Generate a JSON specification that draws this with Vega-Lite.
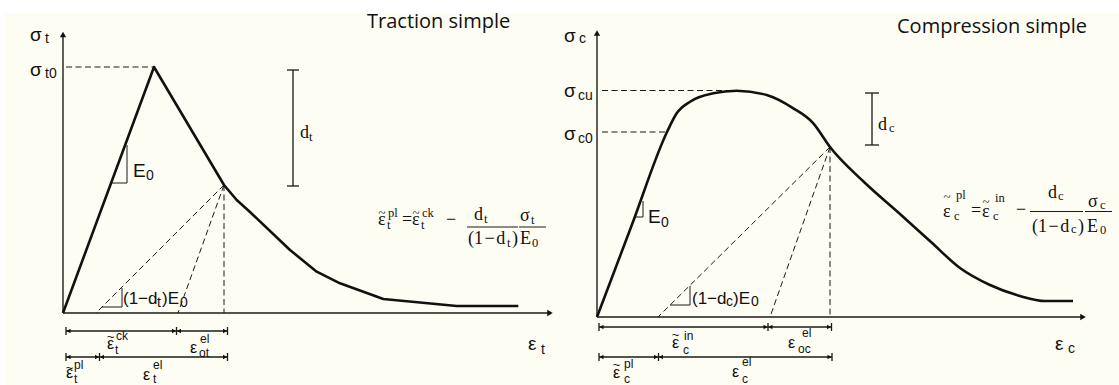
{
  "$schema": "https://vega.github.io/schema/vega-lite/v6.json",
  "width": 1114,
  "height": 372,
  "autosize": {"type": "none"},
  "padding": {"left": 5, "top": 13, "right": 0, "bottom": 0},
  "background": "#ffffff",
  "config": {"view": {"stroke": null, "fill": "#fdfdf3"}},
  "datasets": {
    "curves": [
      {"curve": "traction", "x": 63, "y": 72},
      {"curve": "traction", "x": 154, "y": 318},
      {"curve": "traction", "x": 224, "y": 200},
      {"curve": "traction", "x": 236.7, "y": 185},
      {"curve": "traction", "x": 250, "y": 173},
      {"curve": "traction", "x": 290, "y": 135},
      {"curve": "traction", "x": 316.7, "y": 113.3},
      {"curve": "traction", "x": 340, "y": 101.7},
      {"curve": "traction", "x": 383.3, "y": 86},
      {"curve": "traction", "x": 456.7, "y": 79},
      {"curve": "traction", "x": 518.3, "y": 79},
      {"curve": "compression", "x": 597, "y": 68},
      {"curve": "compression", "x": 632, "y": 160.5},
      {"curve": "compression", "x": 667, "y": 253},
      {"curve": "compression", "x": 676.7, "y": 271.7},
      {"curve": "compression", "x": 690, "y": 283.3},
      {"curve": "compression", "x": 713.3, "y": 291.7},
      {"curve": "compression", "x": 736.7, "y": 294.3},
      {"curve": "compression", "x": 766.7, "y": 290},
      {"curve": "compression", "x": 793.3, "y": 276.7},
      {"curve": "compression", "x": 813.3, "y": 261.7},
      {"curve": "compression", "x": 830, "y": 238},
      {"curve": "compression", "x": 864, "y": 203},
      {"curve": "compression", "x": 900, "y": 171},
      {"curve": "compression", "x": 931, "y": 143},
      {"curve": "compression", "x": 960, "y": 117},
      {"curve": "compression", "x": 990, "y": 100},
      {"curve": "compression", "x": 1020, "y": 89},
      {"curve": "compression", "x": 1045, "y": 84},
      {"curve": "compression", "x": 1073, "y": 84}
    ],
    "segments": [
      {"kind": "axis", "x": 63, "y": 72, "x2": 63, "y2": 350},
      {"kind": "axis", "x": 63, "y": 72, "x2": 549, "y2": 72},
      {"kind": "axis", "x": 597, "y": 68, "x2": 597, "y2": 351},
      {"kind": "axis", "x": 597, "y": 68, "x2": 1082, "y2": 68},

      {"kind": "guide", "x": 66, "y": 318, "x2": 154, "y2": 318},
      {"kind": "guide", "x": 224, "y": 200, "x2": 96, "y2": 72},
      {"kind": "guide", "x": 224, "y": 200, "x2": 178, "y2": 72},
      {"kind": "guide", "x": 224, "y": 200, "x2": 224, "y2": 72},
      {"kind": "guide", "x": 602, "y": 294.5, "x2": 737, "y2": 294.5},
      {"kind": "guide", "x": 602, "y": 253, "x2": 667, "y2": 253},
      {"kind": "guide", "x": 830, "y": 238, "x2": 658, "y2": 68},
      {"kind": "guide", "x": 830, "y": 238, "x2": 770, "y2": 68},
      {"kind": "guide", "x": 830, "y": 238, "x2": 830, "y2": 68},

      {"kind": "slope", "x": 111, "y": 202, "x2": 127, "y2": 202},
      {"kind": "slope", "x": 127, "y": 202, "x2": 127, "y2": 240},
      {"kind": "slope", "x": 102, "y": 78, "x2": 122, "y2": 78},
      {"kind": "slope", "x": 122, "y": 78, "x2": 122, "y2": 97},
      {"kind": "slope", "x": 635, "y": 168, "x2": 643, "y2": 168},
      {"kind": "slope", "x": 643, "y": 168, "x2": 643, "y2": 184},
      {"kind": "slope", "x": 670, "y": 80, "x2": 690, "y2": 80},
      {"kind": "slope", "x": 690, "y": 80, "x2": 690, "y2": 99},

      {"kind": "bar", "x": 293, "y": 315, "x2": 293, "y2": 199},
      {"kind": "bar", "x": 287, "y": 315, "x2": 299, "y2": 315},
      {"kind": "bar", "x": 287, "y": 199, "x2": 299, "y2": 199},
      {"kind": "bar", "x": 872, "y": 292, "x2": 872, "y2": 240},
      {"kind": "bar", "x": 865, "y": 292, "x2": 879, "y2": 292},
      {"kind": "bar", "x": 865, "y": 240, "x2": 879, "y2": 240},

      {"kind": "dim", "x": 66, "y": 54, "x2": 227.5, "y2": 54},
      {"kind": "dim", "x": 66, "y": 28, "x2": 227.5, "y2": 28},
      {"kind": "dim", "x": 599, "y": 58, "x2": 831.5, "y2": 58},
      {"kind": "dim", "x": 599, "y": 28, "x2": 832, "y2": 28},
      {"kind": "dim", "x": 66, "y": 50, "x2": 66, "y2": 58},
      {"kind": "dim", "x": 176.5, "y": 50, "x2": 176.5, "y2": 58},
      {"kind": "dim", "x": 227.5, "y": 50, "x2": 227.5, "y2": 58},
      {"kind": "dim", "x": 66, "y": 24, "x2": 66, "y2": 32},
      {"kind": "dim", "x": 99.5, "y": 24, "x2": 99.5, "y2": 32},
      {"kind": "dim", "x": 227.5, "y": 24, "x2": 227.5, "y2": 32},
      {"kind": "dim", "x": 599, "y": 54, "x2": 599, "y2": 62},
      {"kind": "dim", "x": 768, "y": 54, "x2": 768, "y2": 62},
      {"kind": "dim", "x": 831.5, "y": 54, "x2": 831.5, "y2": 62},
      {"kind": "dim", "x": 599, "y": 24, "x2": 599, "y2": 32},
      {"kind": "dim", "x": 658.5, "y": 24, "x2": 658.5, "y2": 32},
      {"kind": "dim", "x": 832, "y": 24, "x2": 832, "y2": 32},

      {"kind": "fbar", "x": 467, "y": 158, "x2": 518, "y2": 158},
      {"kind": "fbar", "x": 519, "y": 158, "x2": 546, "y2": 158},
      {"kind": "fbar", "x": 1030, "y": 173.5, "x2": 1083, "y2": 173.5},
      {"kind": "fbar", "x": 1085, "y": 173.5, "x2": 1112, "y2": 173.5}
    ],
    "heads": [
      {"kind": "axis", "dir": "up", "x": 63, "y": 350.5},
      {"kind": "axis", "dir": "right", "x": 550, "y": 72},
      {"kind": "axis", "dir": "up", "x": 597, "y": 352},
      {"kind": "axis", "dir": "right", "x": 1083, "y": 68},
      {"kind": "dim", "dir": "left", "x": 68.5, "y": 54},
      {"kind": "dim", "dir": "right", "x": 174, "y": 54},
      {"kind": "dim", "dir": "left", "x": 179, "y": 54},
      {"kind": "dim", "dir": "right", "x": 225, "y": 54},
      {"kind": "dim", "dir": "left", "x": 68.5, "y": 28},
      {"kind": "dim", "dir": "right", "x": 97, "y": 28},
      {"kind": "dim", "dir": "left", "x": 102, "y": 28},
      {"kind": "dim", "dir": "right", "x": 225, "y": 28},
      {"kind": "dim", "dir": "left", "x": 601.5, "y": 58},
      {"kind": "dim", "dir": "right", "x": 765.5, "y": 58},
      {"kind": "dim", "dir": "left", "x": 770.5, "y": 58},
      {"kind": "dim", "dir": "right", "x": 829, "y": 58},
      {"kind": "dim", "dir": "left", "x": 601.5, "y": 28},
      {"kind": "dim", "dir": "right", "x": 656, "y": 28},
      {"kind": "dim", "dir": "left", "x": 661, "y": 28},
      {"kind": "dim", "dir": "right", "x": 829.5, "y": 28}
    ],
    "labels": [
      {"kind": "title", "text": "Traction simple", "x": 367, "y": 357},
      {"kind": "title", "text": "Compression simple", "x": 897, "y": 352},

      {"kind": "sym", "text": "σ", "x": 30, "y": 344},
      {"kind": "sym", "text": "σ", "x": 30, "y": 309},
      {"kind": "sym", "text": "E", "x": 133, "y": 208},
      {"kind": "sym", "text": "ε", "x": 528, "y": 35},
      {"kind": "sym", "text": "σ", "x": 564, "y": 343},
      {"kind": "sym", "text": "σ", "x": 564, "y": 288},
      {"kind": "sym", "text": "σ", "x": 564, "y": 245},
      {"kind": "sym", "text": "E", "x": 648, "y": 162},
      {"kind": "sym", "text": "ε", "x": 1055, "y": 35},

      {"kind": "ratio", "text": "(1−d", "x": 123, "y": 81},
      {"kind": "ratio", "text": ")E", "x": 162, "y": 81},
      {"kind": "ratio", "text": "(1−d", "x": 692, "y": 81},
      {"kind": "ratio", "text": ")E", "x": 733, "y": 81},

      {"kind": "sub", "text": "t", "x": 45, "y": 342},
      {"kind": "sub", "text": "t0", "x": 45, "y": 307},
      {"kind": "sub", "text": "0", "x": 146, "y": 205},
      {"kind": "sub", "text": "t", "x": 157, "y": 78},
      {"kind": "sub", "text": "0", "x": 180, "y": 78},
      {"kind": "sub", "text": "t", "x": 541, "y": 31},
      {"kind": "sub", "text": "c", "x": 579, "y": 342},
      {"kind": "sub", "text": "cu", "x": 578, "y": 285},
      {"kind": "sub", "text": "c0", "x": 578, "y": 242},
      {"kind": "sub", "text": "0", "x": 661, "y": 158},
      {"kind": "sub", "text": "c", "x": 726, "y": 79},
      {"kind": "sub", "text": "0", "x": 751, "y": 79},
      {"kind": "sub", "text": "c", "x": 1068, "y": 32},

      {"kind": "dim", "text": "ε", "x": 107, "y": 36},
      {"kind": "dim", "text": "ε", "x": 190, "y": 32},
      {"kind": "dim", "text": "ε", "x": 66, "y": 7},
      {"kind": "dim", "text": "ε", "x": 143, "y": 5},
      {"kind": "dim", "text": "ε", "x": 672, "y": 37},
      {"kind": "dim", "text": "ε", "x": 788, "y": 37},
      {"kind": "dim", "text": "ε", "x": 613, "y": 7},
      {"kind": "dim", "text": "ε", "x": 732, "y": 8},

      {"kind": "tilde", "text": "~", "x": 110.5, "y": 44},
      {"kind": "tilde", "text": "~", "x": 69.5, "y": 13},
      {"kind": "tilde", "text": "~", "x": 675.5, "y": 46},
      {"kind": "tilde", "text": "~", "x": 616.5, "y": 16},

      {"kind": "dimsub", "text": "t", "x": 115, "y": 31},
      {"kind": "dimsub", "text": "ck", "x": 116, "y": 45},
      {"kind": "dimsub", "text": "ot", "x": 199, "y": 28},
      {"kind": "dimsub", "text": "el", "x": 200, "y": 42},
      {"kind": "dimsub", "text": "pl", "x": 74, "y": 16},
      {"kind": "dimsub", "text": "t", "x": 74, "y": 2},
      {"kind": "dimsub", "text": "t", "x": 153, "y": 2},
      {"kind": "dimsub", "text": "el", "x": 153, "y": 16},
      {"kind": "dimsub", "text": "c", "x": 683, "y": 31},
      {"kind": "dimsub", "text": "in", "x": 684, "y": 45},
      {"kind": "dimsub", "text": "oc", "x": 798, "y": 32},
      {"kind": "dimsub", "text": "el", "x": 802, "y": 48},
      {"kind": "dimsub", "text": "pl", "x": 624, "y": 17},
      {"kind": "dimsub", "text": "c", "x": 624, "y": 2},
      {"kind": "dimsub", "text": "c", "x": 742, "y": 2},
      {"kind": "dimsub", "text": "el", "x": 742, "y": 19},

      {"kind": "fml", "text": "ε", "x": 378, "y": 160},
      {"kind": "fml", "text": "=", "x": 402, "y": 160},
      {"kind": "fml", "text": "ε", "x": 412, "y": 160},
      {"kind": "fml", "text": "−", "x": 446, "y": 160},
      {"kind": "fml", "text": "d", "x": 474, "y": 165},
      {"kind": "fml", "text": "(1\u200a\u2212\u200ad", "x": 468, "y": 141},
      {"kind": "fml", "text": ")", "x": 512, "y": 141},
      {"kind": "fml", "text": "σ", "x": 520, "y": 164},
      {"kind": "fml", "text": "E", "x": 520, "y": 141},
      {"kind": "fml", "text": "ε", "x": 943, "y": 168},
      {"kind": "fml", "text": "=", "x": 971, "y": 169},
      {"kind": "fml", "text": "ε", "x": 982, "y": 168},
      {"kind": "fml", "text": "−", "x": 1016, "y": 170},
      {"kind": "fml", "text": "d", "x": 1048, "y": 187},
      {"kind": "fml", "text": "(1\u200a\u2212\u200ad", "x": 1032, "y": 153},
      {"kind": "fml", "text": ")", "x": 1078, "y": 153},
      {"kind": "fml", "text": "σ", "x": 1088, "y": 178},
      {"kind": "fml", "text": "E", "x": 1087, "y": 153},
      {"kind": "fml", "text": "d", "x": 300, "y": 247},
      {"kind": "fml", "text": "d", "x": 878, "y": 255},

      {"kind": "ftilde", "text": "~", "x": 382, "y": 168},
      {"kind": "ftilde", "text": "~", "x": 416, "y": 168},
      {"kind": "ftilde", "text": "~", "x": 947, "y": 184},
      {"kind": "ftilde", "text": "~", "x": 986, "y": 179},

      {"kind": "fmlsub", "text": "pl", "x": 388, "y": 168},
      {"kind": "fmlsub", "text": "t", "x": 387, "y": 156},
      {"kind": "fmlsub", "text": "ck", "x": 422, "y": 168},
      {"kind": "fmlsub", "text": "t", "x": 421, "y": 156},
      {"kind": "fmlsub", "text": "t", "x": 484, "y": 162},
      {"kind": "fmlsub", "text": "t", "x": 507, "y": 138},
      {"kind": "fmlsub", "text": "t", "x": 531, "y": 161},
      {"kind": "fmlsub", "text": "0", "x": 532, "y": 138},
      {"kind": "fmlsub", "text": "pl", "x": 956, "y": 186},
      {"kind": "fmlsub", "text": "c", "x": 954, "y": 165},
      {"kind": "fmlsub", "text": "in", "x": 995, "y": 183},
      {"kind": "fmlsub", "text": "c", "x": 993, "y": 165},
      {"kind": "fmlsub", "text": "c", "x": 1058, "y": 185},
      {"kind": "fmlsub", "text": "c", "x": 1071, "y": 152},
      {"kind": "fmlsub", "text": "c", "x": 1100, "y": 176},
      {"kind": "fmlsub", "text": "0", "x": 1100, "y": 151},
      {"kind": "fmlsub", "text": "t", "x": 309, "y": 244},
      {"kind": "fmlsub", "text": "c", "x": 889, "y": 253}
    ]
  },
  "encoding": {
    "x": {"field": "x", "type": "quantitative", "scale": {"domain": [5, 1119], "nice": false, "zero": false}, "axis": null},
    "y": {"field": "y", "type": "quantitative", "scale": {"domain": [0, 372], "nice": false, "zero": false}, "axis": null}
  },
  "layer": [
    {
      "data": {"name": "segments"},
      "transform": [{"filter": "datum.kind === 'guide'"}],
      "mark": {"type": "rule", "color": "#1a1a1a", "strokeWidth": 1, "strokeDash": [6, 3.5]},
      "encoding": {"x2": {"field": "x2"}, "y2": {"field": "y2"}}
    },
    {
      "data": {"name": "segments"},
      "transform": [{"filter": "datum.kind === 'axis'"}],
      "mark": {"type": "rule", "color": "#1a1a1a", "strokeWidth": 1.4},
      "encoding": {"x2": {"field": "x2"}, "y2": {"field": "y2"}}
    },
    {
      "data": {"name": "segments"},
      "transform": [{"filter": "datum.kind === 'slope' || datum.kind === 'fbar'"}],
      "mark": {"type": "rule", "color": "#1a1a1a", "strokeWidth": 1},
      "encoding": {"x2": {"field": "x2"}, "y2": {"field": "y2"}}
    },
    {
      "data": {"name": "segments"},
      "transform": [{"filter": "datum.kind === 'bar' || datum.kind === 'dim'"}],
      "mark": {"type": "rule", "color": "#1a1a1a", "strokeWidth": 1.3},
      "encoding": {"x2": {"field": "x2"}, "y2": {"field": "y2"}}
    },
    {
      "data": {"name": "curves"},
      "transform": [{"filter": "datum.curve === 'traction'"}],
      "mark": {"type": "line", "color": "#111111", "strokeWidth": 2.6, "interpolate": "linear", "strokeJoin": "round"}
    },
    {
      "data": {"name": "curves"},
      "transform": [{"filter": "datum.curve === 'compression'"}],
      "mark": {"type": "line", "color": "#111111", "strokeWidth": 2.6, "interpolate": "monotone", "strokeJoin": "round"}
    },
    {
      "data": {"name": "heads"},
      "transform": [{"filter": "datum.kind === 'axis'"}],
      "mark": {"type": "point", "filled": true, "opacity": 1, "color": "#111111", "size": 40},
      "encoding": {
        "shape": {"field": "dir", "type": "nominal", "scale": {"domain": ["up", "right", "left"], "range": ["triangle-up", "triangle-right", "triangle-left"]}, "legend": null}
      }
    },
    {
      "data": {"name": "heads"},
      "transform": [{"filter": "datum.kind === 'dim'"}],
      "mark": {"type": "point", "filled": true, "opacity": 1, "color": "#111111", "size": 22},
      "encoding": {
        "shape": {"field": "dir", "type": "nominal", "scale": {"domain": ["up", "right", "left"], "range": ["triangle-up", "triangle-right", "triangle-left"]}, "legend": null}
      }
    },
    {
      "data": {"name": "labels"},
      "transform": [{"filter": "datum.kind === 'title'"}],
      "mark": {"type": "text", "align": "left", "baseline": "alphabetic", "font": "Open Sans", "fontSize": 20, "color": "#111111"},
      "encoding": {"text": {"field": "text"}}
    },
    {
      "data": {"name": "labels"},
      "transform": [{"filter": "datum.kind === 'sym'"}],
      "mark": {"type": "text", "align": "left", "baseline": "alphabetic", "font": "Liberation Sans", "fontSize": 19, "color": "#111111"},
      "encoding": {"text": {"field": "text"}}
    },
    {
      "data": {"name": "labels"},
      "transform": [{"filter": "datum.kind === 'ratio'"}],
      "mark": {"type": "text", "align": "left", "baseline": "alphabetic", "font": "Liberation Sans", "fontSize": 17, "color": "#111111"},
      "encoding": {"text": {"field": "text"}}
    },
    {
      "data": {"name": "labels"},
      "transform": [{"filter": "datum.kind === 'sub'"}],
      "mark": {"type": "text", "align": "left", "baseline": "alphabetic", "font": "Liberation Sans", "fontSize": 14, "color": "#111111"},
      "encoding": {"text": {"field": "text"}}
    },
    {
      "data": {"name": "labels"},
      "transform": [{"filter": "datum.kind === 'dim'"}],
      "mark": {"type": "text", "align": "left", "baseline": "alphabetic", "font": "Liberation Sans", "fontSize": 16, "color": "#111111"},
      "encoding": {"text": {"field": "text"}}
    },
    {
      "data": {"name": "labels"},
      "transform": [{"filter": "datum.kind === 'tilde'"}],
      "mark": {"type": "text", "align": "center", "baseline": "alphabetic", "font": "Liberation Sans", "fontSize": 13, "color": "#111111"},
      "encoding": {"text": {"field": "text"}}
    },
    {
      "data": {"name": "labels"},
      "transform": [{"filter": "datum.kind === 'dimsub'"}],
      "mark": {"type": "text", "align": "left", "baseline": "alphabetic", "font": "Liberation Sans", "fontSize": 12, "color": "#111111"},
      "encoding": {"text": {"field": "text"}}
    },
    {
      "data": {"name": "labels"},
      "transform": [{"filter": "datum.kind === 'fml'"}],
      "mark": {"type": "text", "align": "left", "baseline": "alphabetic", "font": "Liberation Serif", "fontSize": 18, "color": "#111111"},
      "encoding": {"text": {"field": "text"}}
    },
    {
      "data": {"name": "labels"},
      "transform": [{"filter": "datum.kind === 'ftilde'"}],
      "mark": {"type": "text", "align": "center", "baseline": "alphabetic", "font": "Liberation Serif", "fontSize": 13, "color": "#111111"},
      "encoding": {"text": {"field": "text"}}
    },
    {
      "data": {"name": "labels"},
      "transform": [{"filter": "datum.kind === 'fmlsub'"}],
      "mark": {"type": "text", "align": "left", "baseline": "alphabetic", "font": "Liberation Serif", "fontSize": 12.5, "color": "#111111"},
      "encoding": {"text": {"field": "text"}}
    }
  ]
}
